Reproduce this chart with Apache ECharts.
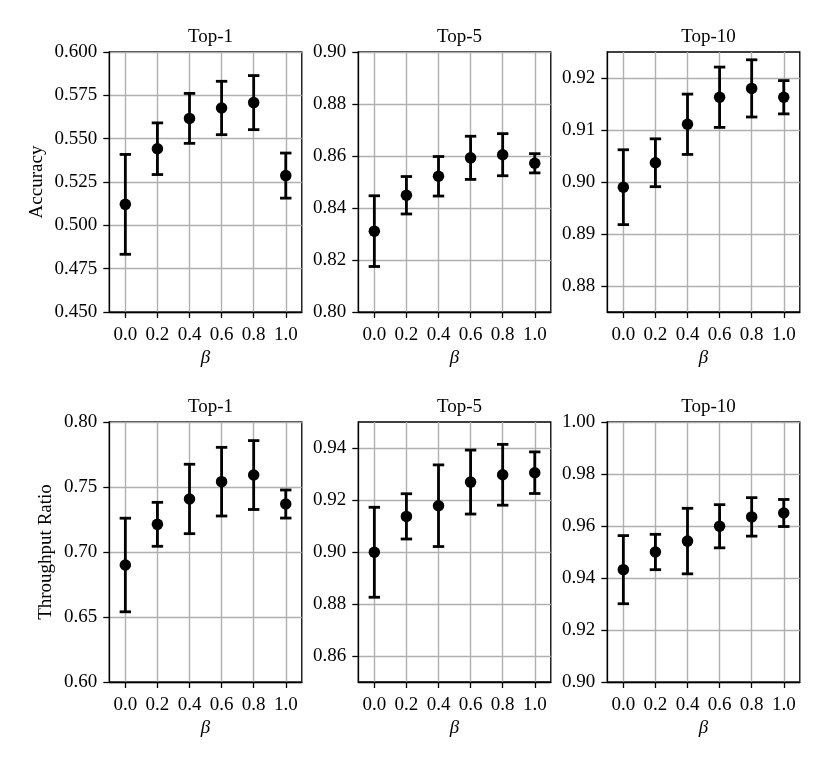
<!DOCTYPE html>
<html>
<head>
<meta charset="utf-8">
<script src="https://cdn.jsdelivr.net/npm/echarts@6/dist/echarts.min.js"></script>
<style>html,body{margin:0;padding:0;background:#fff}#c{width:830px;height:767px}</style>
</head>
<body>
<div id="c"></div>
<script>
// ---- data ----
const beta = [0.0, 0.2, 0.4, 0.6, 0.8, 1.0];
const xTicks = [0.0, 0.2, 0.4, 0.6, 0.8, 1.0];

const accTop1Mean = [0.5121, 0.5442, 0.5617, 0.5677, 0.5708, 0.5287];
const accTop1Err  = [0.0288, 0.0149, 0.0144, 0.0154, 0.0156, 0.0130];
const accTop5Mean = [0.8311, 0.8449, 0.8522, 0.8593, 0.8605, 0.8572];
const accTop5Err  = [0.0136, 0.0072, 0.0076, 0.0083, 0.0081, 0.0037];
const accTop10Mean = [0.8990, 0.9037, 0.9111, 0.9163, 0.9180, 0.9163];
const accTop10Err  = [0.0072, 0.0046, 0.0058, 0.0058, 0.0055, 0.0032];

const thrTop1Mean = [0.6900, 0.7213, 0.7408, 0.7541, 0.7592, 0.7369];
const thrTop1Err  = [0.0360, 0.0169, 0.0267, 0.0264, 0.0265, 0.0108];
const thrTop5Mean = [0.8999, 0.9137, 0.9178, 0.9269, 0.9297, 0.9305];
const thrTop5Err  = [0.0173, 0.0087, 0.0157, 0.0123, 0.0117, 0.0080];
const thrTop10Mean = [0.9432, 0.9500, 0.9542, 0.9599, 0.9635, 0.9650];
const thrTop10Err  = [0.0131, 0.0068, 0.0126, 0.0083, 0.0074, 0.0052];

const yTicksAcc1 = [0.450, 0.475, 0.500, 0.525, 0.550, 0.575, 0.600];
const yTicksAcc5 = [0.80, 0.82, 0.84, 0.86, 0.88, 0.90];
const yTicksAcc10 = [0.88, 0.89, 0.90, 0.91, 0.92];
const yTicksThr1 = [0.60, 0.65, 0.70, 0.75, 0.80];
const yTicksThr5 = [0.86, 0.88, 0.90, 0.92, 0.94];
const yTicksThr10 = [0.90, 0.92, 0.94, 0.96, 0.98, 1.00];

const titles = ['Top-1', 'Top-5', 'Top-10', 'Top-1', 'Top-5', 'Top-10'];
const rowLabels = ['Accuracy', 'Throughput Ratio'];

// ---- layout / styles ----
const FONT = 'Liberation Serif';
const FS = 19;
const panels = [
  {mean: accTop1Mean, err: accTop1Err, ticks: yTicksAcc1, min: 0.45, max: 0.60, dec: 3},
  {mean: accTop5Mean, err: accTop5Err, ticks: yTicksAcc5, min: 0.80, max: 0.90, dec: 2},
  {mean: accTop10Mean, err: accTop10Err, ticks: yTicksAcc10, min: 0.875, max: 0.925, dec: 2},
  {mean: thrTop1Mean, err: thrTop1Err, ticks: yTicksThr1, min: 0.60, max: 0.80, dec: 2},
  {mean: thrTop5Mean, err: thrTop5Err, ticks: yTicksThr5, min: 0.85, max: 0.95, dec: 2},
  {mean: thrTop10Mean, err: thrTop10Err, ticks: yTicksThr10, min: 0.90, max: 1.00, dec: 2}
];
const lefts = [109.3, 358.3, 607.3];
const tops = [52, 422];
const W = 192.5, H = 260;

const grids = [], xAxes = [], yAxes = [], series = [], titleOpts = [];
panels.forEach((p, i) => {
  const col = i % 3, row = Math.floor(i / 3);
  grids.push({left: lefts[col], top: tops[row], width: W, height: H,
    show: true, borderColor: '#000', borderWidth: 1.3, backgroundColor: 'transparent', containLabel: false});
  xAxes.push({
    type: 'value', gridIndex: i, min: -0.1, max: 1.1,
    name: 'β', nameLocation: 'middle', nameGap: 36,
    nameTextStyle: {fontFamily: FONT, fontSize: FS, fontStyle: 'italic', color: '#000'},
    axisLine: {show: true, onZero: false, lineStyle: {color: '#000', width: 1.3}},
    axisTick: {show: true, inside: false, length: 6, customValues: xTicks, lineStyle: {color: '#000', width: 1.3}},
    axisLabel: {show: true, margin: 14, customValues: xTicks, fontFamily: FONT, fontSize: FS, color: '#000',
      formatter: v => v.toFixed(1)},
    splitLine: {show: true, lineStyle: {color: '#b0b0b0', width: 1.4}}
  });
  yAxes.push({
    type: 'value', gridIndex: i, min: p.min, max: p.max,
    name: col === 0 ? rowLabels[row] : '', nameLocation: 'middle', nameGap: row === 0 ? 63 : 54,
    nameTextStyle: {fontFamily: FONT, fontSize: FS, color: '#000'},
    axisLine: {show: true, onZero: false, lineStyle: {color: '#000', width: 1.3}},
    axisTick: {show: true, inside: false, length: 6, customValues: p.ticks, lineStyle: {color: '#000', width: 1.3}},
    axisLabel: {show: true, margin: 12, customValues: p.ticks, fontFamily: FONT, fontSize: FS, color: '#000',
      formatter: v => v.toFixed(p.dec)},
    splitLine: {show: true, lineStyle: {color: '#b0b0b0', width: 1.4}}
  });
  titleOpts.push({text: titles[i], left: lefts[col] + W / 2, top: tops[row] - 29, textAlign: 'center',
    textStyle: {fontFamily: FONT, fontSize: FS, fontWeight: 'normal', color: '#000'}});
  series.push({
    type: 'custom', xAxisIndex: i, yAxisIndex: i,
    data: beta.map((b, k) => [b, p.mean[k], p.err[k]]),
    encode: {x: 0, y: 1},
    renderItem: function (params, api) {
      const x = api.value(0), y = api.value(1), e = api.value(2);
      const t = api.coord([x, y + e]);
      const b = api.coord([x, y - e]);
      const cap = 5.7;
      const st = {stroke: '#000', lineWidth: 2.8};
      return {type: 'group', children: [
        {type: 'line', shape: {x1: t[0], y1: t[1], x2: b[0], y2: b[1]}, style: st},
        {type: 'line', shape: {x1: t[0] - cap, y1: t[1], x2: t[0] + cap, y2: t[1]}, style: st},
        {type: 'line', shape: {x1: b[0] - cap, y1: b[1], x2: b[0] + cap, y2: b[1]}, style: st}
      ]};
    },
    z: 2
  });
  series.push({
    type: 'scatter', xAxisIndex: i, yAxisIndex: i,
    data: beta.map((b, k) => [b, p.mean[k]]),
    symbol: 'circle', symbolSize: 11.5, itemStyle: {color: '#000', opacity: 1}, z: 3
  });
});

const chart = echarts.init(document.getElementById('c'), null, {renderer: 'canvas'});
chart.setOption({
  backgroundColor: '#fff',
  animation: false,
  title: titleOpts,
  grid: grids,
  xAxis: xAxes,
  yAxis: yAxes,
  series: series
});
</script>
</body>
</html>
